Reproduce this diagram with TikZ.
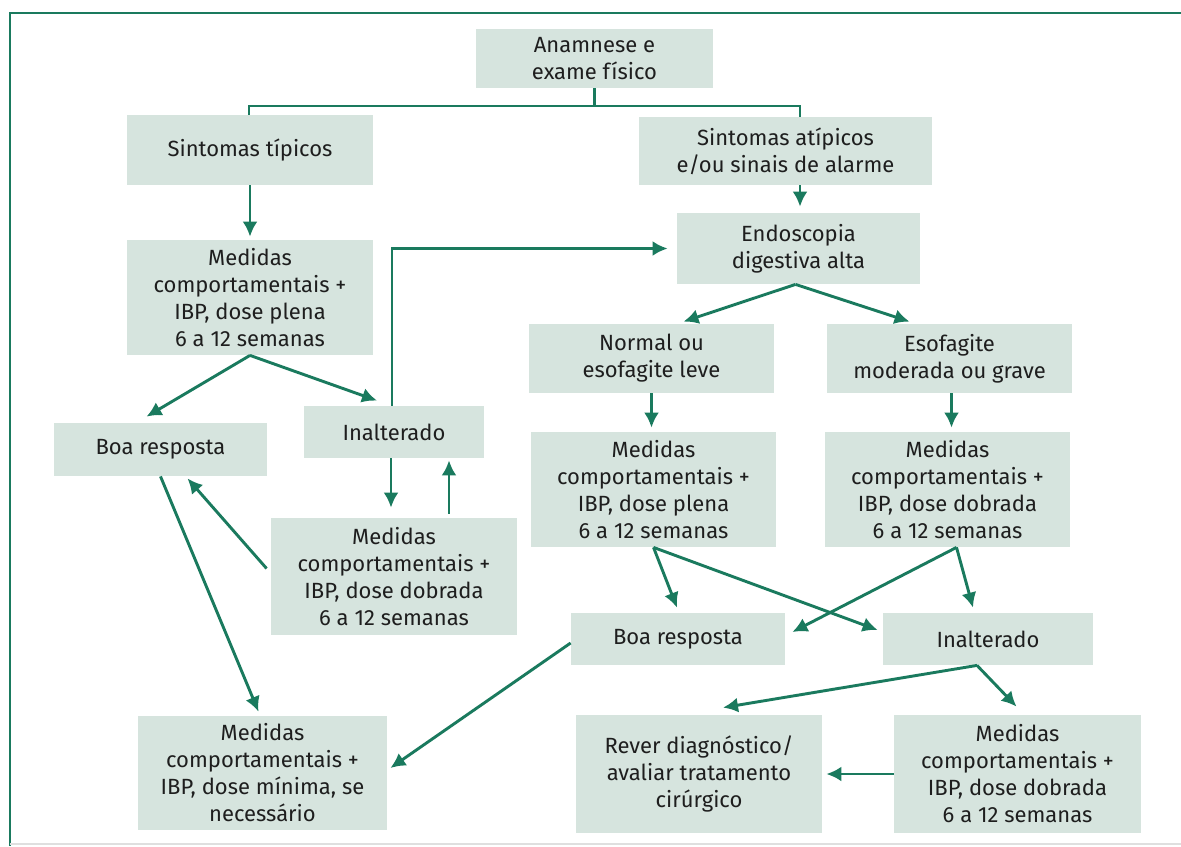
\documentclass[tikz,border=0pt]{standalone}
\usepackage{fontspec}
\setmainfont{Fira Sans}
\usetikzlibrary{arrows.meta}

\definecolor{boxfill}{RGB}{214,228,222}
\definecolor{linegreen}{RGB}{26,122,94}
\definecolor{textgray}{RGB}{30,30,30}

\begin{document}
\begin{tikzpicture}[x=0.5pt, y=-0.5pt,
  box/.style={fill=boxfill, inner sep=0pt, align=center, text=textgray, font=\fontsize{11}{13.5}\selectfont},
  link/.style={draw=linegreen, line width=1.45pt},
  arr/.style={link, -{Latex[length=7.5pt,width=7.5pt]}}]

\useasboundingbox (0,0) rectangle (1181,846);
\fill[white] (0,0) rectangle (1181,846);
\draw[linegreen, line width=1.4pt] (10,846) -- (10,13) -- (1181,13);
\draw[gray!25, line width=0.6pt] (10,844) -- (1181,844);

\node[box, minimum width=118.5pt, minimum height=29.5pt] (anam) at (594.5,58.5) {Anamnese e\\exame físico};
\node[box, minimum width=123pt, minimum height=35pt] (tipicos) at (250,150) {Sintomas típicos};
\node[box, minimum width=146.5pt, minimum height=34pt] (atipicos) at (785.5,151) {Sintomas atípicos\\e/ou sinais de alarme};
\node[box, minimum width=121.5pt, minimum height=35.5pt] (endo) at (798.5,248.5) {Endoscopia\\digestiva alta};

\node[box, minimum width=123pt, minimum height=57.5pt] (med1) at (250,297.5) {Medidas\\comportamentais +\\IBP, dose plena\\6 a 12 semanas};
\node[box, minimum width=106.5pt, minimum height=26.5pt] (boa1) at (160.5,449.5) {Boa resposta};
\node[box, minimum width=90pt, minimum height=26pt] (inal1) at (394,432) {Inalterado};
\node[box, minimum width=123pt, minimum height=58.5pt] (med2) at (394,576.5) {Medidas\\comportamentais +\\IBP, dose dobrada\\6 a 12 semanas};
\node[box, minimum width=124.5pt, minimum height=57pt] (minima) at (262.5,773) {Medidas\\comportamentais +\\IBP, dose mínima, se\\necessário};

\node[box, minimum width=122.5pt, minimum height=34.5pt] (normal) at (651.5,358.5) {Normal ou\\esofagite leve};
\node[box, minimum width=122.5pt, minimum height=34.5pt] (esof) at (949.5,358.5) {Esofagite\\moderada ou grave};
\node[box, minimum width=122.5pt, minimum height=57.5pt] (med3) at (653.5,489.5) {Medidas\\comportamentais +\\IBP, dose plena\\6 a 12 semanas};
\node[box, minimum width=122.5pt, minimum height=57.5pt] (med4) at (947.5,489.5) {Medidas\\comportamentais +\\IBP, dose dobrada\\6 a 12 semanas};
\node[box, minimum width=107pt, minimum height=26pt] (boa2) at (678,639) {Boa resposta};
\node[box, minimum width=105pt, minimum height=26pt] (inal2) at (988,639) {Inalterado};
\node[box, minimum width=123pt, minimum height=59pt] (rever) at (699,774) {Rever diagnóstico/\\avaliar tratamento\\cirúrgico};
\node[box, minimum width=123.5pt, minimum height=59pt] (med5) at (1017.5,774) {Medidas\\comportamentais +\\IBP, dose dobrada\\6 a 12 semanas};

\coordinate (jl) at (249,106);
\coordinate (jr) at (800,106);
\draw[link] (anam.south) -- (anam.south |- jl);
\draw[link] (tipicos.north -| jl) -- (jl) -- (jr) -- (atipicos.north -| jr);
\draw[arr, shorten >=3pt] (atipicos.south -| jr) -- (endo.north -| jr);
\draw[arr, shorten >=1.5pt] (tipicos) -- (med1);

\draw[arr] (med1.south) -- ([xshift=-7pt,yshift=3pt]boa1.north);
\draw[arr] (med1.south) -- ([xshift=-8.5pt,yshift=2.5pt]inal1.north);
\draw[arr] ([xshift=-1pt]inal1.north) |- ([xshift=-4.5pt]endo.west);
\draw[arr, shorten >=5pt] ([xshift=-1.5pt]inal1.south) -- ([xshift=-1.5pt]med2.north);
\draw[arr, shorten <=2pt, shorten >=1pt] ([xshift=27.5pt]med2.north) -- ([xshift=27.5pt]inal1.south);
\draw[arr] ([xshift=-2pt,yshift=4pt]med2.west) -- ([xshift=13.5pt,yshift=-1pt]boa1.south);
\draw[arr] (boa1.south) -- ([xshift=-2pt,yshift=2pt]minima.north);
\draw[arr] ([yshift=-2pt]boa2.west) -- ([xshift=1.5pt,yshift=2.5pt]minima.east);

\draw[arr] ([xshift=-1.5pt]endo.south) -- ([xshift=16pt,yshift=1pt]normal.north);
\draw[arr] ([xshift=-1.5pt]endo.south) -- ([xshift=-20pt,yshift=1pt]esof.north);
\draw[arr, shorten >=2pt] (normal) -- (normal |- med3.north);
\draw[arr, shorten >=2pt] ([xshift=1pt]esof.south) -- ([xshift=1pt]esof.south |- med4.north);

\draw[arr] (med3.south) -- ([xshift=-0.5pt,yshift=2.5pt]boa2.north);
\draw[arr] (med3.south) -- ([xshift=-2.5pt,yshift=4.5pt]inal2.west);
\draw[arr] ([xshift=4.5pt]med4.south) -- ([xshift=3.5pt,yshift=3.5pt]boa2.east);
\draw[arr] ([xshift=4.5pt]med4.south) -- ([xshift=-7.5pt,yshift=2.5pt]inal2.north);

\draw[arr] ([xshift=-5.5pt]inal2.south) -- ([xshift=12pt,yshift=3.5pt]rever.north);
\draw[arr] ([xshift=-5.5pt]inal2.south) -- ([xshift=-0.5pt,yshift=4pt]med5.north);
\draw[arr] (med5.west) -- ([xshift=2pt]rever.east);

\end{tikzpicture}
\end{document}
